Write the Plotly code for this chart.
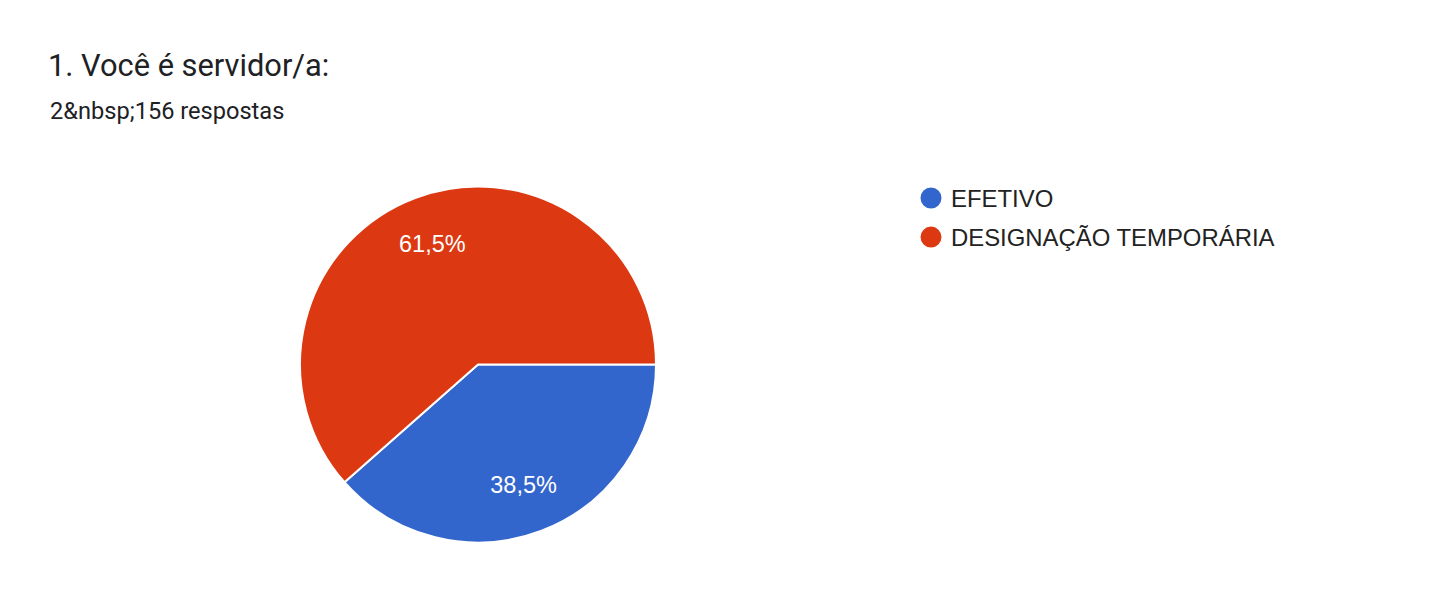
import plotly.graph_objects as go

# Respostas (total 2156)
categorias = ["EFETIVO", "DESIGNAÇÃO TEMPORÁRIA"]
respostas = [830, 1326]
cores = ["#3366CC", "#DC3912"]

titulo = "1. Você é servidor/a:"
subtitulo = "2&amp;nbsp;156 respostas"

W, H = 1451, 610

fig = go.Figure()
dominio = dict(x=[292 / W, 648 / W], y=[1 - 534.5 / H, 1 - 178.5 / H])

# the pie itself
fig.add_trace(go.Pie(
    labels=categorias, values=respostas, sort=False,
    direction="clockwise", rotation=90,
    marker=dict(colors=cores, line=dict(color="white", width=2)),
    textinfo="none", domain=dominio,
    showlegend=False, hoverinfo="label+percent",
))
# same pie again, transparent, with a hole: only to push the % labels outwards
fig.add_trace(go.Pie(
    labels=categorias, values=respostas, sort=False,
    direction="clockwise", rotation=90, hole=0.45,
    marker=dict(colors=["rgba(0,0,0,0)"] * 2, line=dict(width=0)),
    texttemplate="%{percent:.1%}", textposition="inside",
    insidetextorientation="horizontal",
    textfont=dict(family="Liberation Sans, Arial", size=23.5, color="white"),
    domain=dominio, showlegend=False, hoverinfo="skip",
))

# legend entries with round markers, like the Google Forms chart
for nome, cor in zip(categorias, cores):
    fig.add_trace(go.Scatter(
        x=[None], y=[None], mode="markers", name=nome, legendgroup=nome,
        marker=dict(color=cor, size=16, symbol="circle", line=dict(color=cor, width=7)),
    ))

fig.update_layout(
    width=W, height=H,
    margin=dict(l=0, r=0, t=0, b=0),
    paper_bgcolor="white", plot_bgcolor="white",
    separators=",.",
    xaxis=dict(visible=False), yaxis=dict(visible=False),
    title=dict(text=titulo, x=40 / W, xanchor="left", xref="container",
               y=1 - 46.5 / H, yanchor="top", yref="container",
               font=dict(family="Roboto", size=30.8, color="#202124")),
    legend=dict(x=903 / W, xanchor="left", y=1 - 168 / H, yanchor="top",
                tracegroupgap=5,
                font=dict(family="Liberation Sans, Arial", size=23.9, color="#222222"),
                bgcolor="rgba(0,0,0,0)"),
    annotations=[dict(text=subtitulo, x=40 / W, xanchor="left", xref="paper",
                      y=1 - 87 / H, yanchor="top", yref="paper", showarrow=False,
                      font=dict(family="Roboto", size=23.6, color="#202124"))],
)

fig.write_html("out.html")
